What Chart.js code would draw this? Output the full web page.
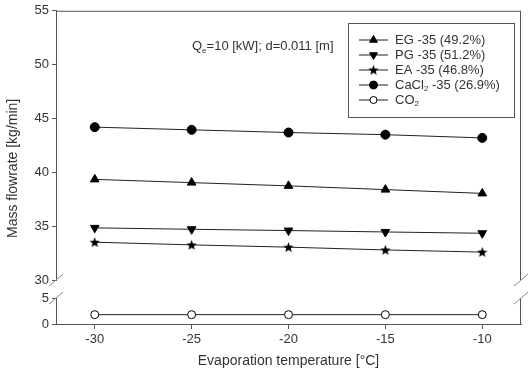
<!DOCTYPE html>
<html><head><meta charset="utf-8">
<script src="https://cdn.jsdelivr.net/npm/chart.js@4/dist/chart.umd.min.js"></script>
<style>html,body{margin:0;padding:0;background:#fff}#wrap{width:528px;height:379px}</style>
</head><body><div id="wrap"><canvas id="c" width="528" height="379"></canvas></div>
<script>
const temps = [-30, -25, -20, -15, -10];
const egFlow = [39.35, 39.05, 38.75, 38.4, 38.05];
const pgFlow = [34.85, 34.72, 34.6, 34.47, 34.35];
const eaFlow = [33.52, 33.27, 33.06, 32.8, 32.6];
const caclFlow = [44.2, 43.95, 43.7, 43.5, 43.2];
const co2Flow = [1.8, 1.8, 1.8, 1.8, 1.8];
const seriesLabels = ['EG -35 (49.2%)', 'PG -35 (51.2%)', 'EA -35 (46.8%)', 'CaCl₂ -35 (26.9%)', 'CO₂'];
const xTicks = [-30, -25, -20, -15, -10];
const yUpperTicks = [30, 35, 40, 45, 50, 55];
const yLowerTicks = [0, 5];
const xTitle = 'Evaporation temperature [°C]';
const yTitle = 'Mass flowrate [kg/min]';
const noteMain = 'Q';
const noteSub = 'e';
const noteRest = '=10 [kW]; d=0.011 [m]';

const FONT = '"Liberation Sans", Arial, sans-serif';
const AX = '#555';
const TXT = '#333';

function starCanvas() {
  const c = document.createElement('canvas');
  c.width = 11; c.height = 11;
  const g = c.getContext('2d');
  g.fillStyle = '#000';
  g.beginPath();
  for (let i = 0; i < 10; i++) {
    const r = i % 2 === 0 ? 5.5 : 2.3;
    const a = -Math.PI / 2 + i * Math.PI / 5;
    const px = 5.5 + r * Math.cos(a), py = 5.5 + r * Math.sin(a) + 0.4;
    if (i === 0) g.moveTo(px, py); else g.lineTo(px, py);
  }
  g.closePath(); g.fill();
  return c;
}
const star = starCanvas();

function pts(vals) { return temps.map((t, i) => ({x: t, y: vals[i]})); }

const markerDefs = [
  {pointStyle: 'triangle', rotation: 0, radius: 5, bg: '#000'},
  {pointStyle: 'triangle', rotation: 180, radius: 5, bg: '#000'},
  {pointStyle: star, rotation: 0, radius: 5, bg: '#000'},
  {pointStyle: 'circle', rotation: 0, radius: 4.5, bg: '#000'},
  {pointStyle: 'circle', rotation: 0, radius: 4, bg: '#fff'}
];
const seriesValues = [egFlow, pgFlow, eaFlow, caclFlow, co2Flow];

const datasets = seriesValues.map((v, i) => ({
  label: seriesLabels[i],
  data: pts(v),
  yAxisID: i === 4 ? 'y2' : 'y',
  borderColor: '#222',
  borderWidth: 1,
  pointStyle: markerDefs[i].pointStyle,
  rotation: markerDefs[i].rotation,
  pointRadius: markerDefs[i].radius,
  pointBackgroundColor: markerDefs[i].bg,
  pointBorderColor: '#000',
  pointBorderWidth: 1,
  fill: false,
  tension: 0
}));

function drawLabel(ctx, text, x, y, size) {
  const parts = text.split('₂');
  let cx = x;
  parts.forEach((p, i) => {
    ctx.font = size + 'px ' + FONT;
    ctx.fillText(p, cx, y);
    cx += ctx.measureText(p).width;
    if (i < parts.length - 1) {
      ctx.font = Math.round(size * 0.65) + 'px ' + FONT;
      ctx.fillText('2', cx, y + 4);
      cx += ctx.measureText('2').width;
    }
  });
}

const decor = {
  id: 'decor',
  afterDraw(chart) {
    const ctx = chart.ctx;
    const ca = chart.chartArea;
    const yU = chart.scales.y, yL = chart.scales.y2;
    ctx.save();
    ctx.strokeStyle = AX; ctx.lineWidth = 1;
    ctx.beginPath();
    ctx.moveTo(ca.left, ca.top + 0.5); ctx.lineTo(ca.right, ca.top + 0.5);
    ctx.moveTo(ca.right - 0.5, ca.top); ctx.lineTo(ca.right - 0.5, yU.bottom);
    ctx.moveTo(ca.right - 0.5, yL.top); ctx.lineTo(ca.right - 0.5, ca.bottom);
    ctx.stroke();
    ctx.beginPath();
    [ca.left, ca.right].forEach(x => {
      [yU.bottom, yL.top].forEach(y => {
        ctx.moveTo(x - 7, y + 6); ctx.lineTo(x + 7, y - 6);
      });
    });
    ctx.strokeStyle = '#888';
    ctx.stroke();
    ctx.fillStyle = TXT;
    ctx.textBaseline = 'alphabetic';
    ctx.textAlign = 'left';
    let x = 192, y = 50;
    ctx.font = '13px ' + FONT;
    ctx.fillText(noteMain, x, y); x += ctx.measureText(noteMain).width;
    ctx.font = '8px ' + FONT;
    ctx.fillText(noteSub, x, y + 3); x += ctx.measureText(noteSub).width;
    ctx.font = '13px ' + FONT;
    ctx.fillText(noteRest, x, y);
    ctx.strokeStyle = AX;
    ctx.strokeRect(348.5, 23.5, 166, 94);
    chart.data.datasets.forEach((ds, i) => {
      const ly = 40 + i * 15;
      ctx.beginPath();
      ctx.strokeStyle = '#222'; ctx.lineWidth = 1;
      ctx.moveTo(359, ly); ctx.lineTo(388, ly); ctx.stroke();
      ctx.fillStyle = markerDefs[i].bg; ctx.strokeStyle = '#000';
      Chart.helpers.drawPoint(ctx, {pointStyle: markerDefs[i].pointStyle, rotation: markerDefs[i].rotation, radius: markerDefs[i].radius - 0.5, borderWidth: 1}, 373.5, ly);
      ctx.fillStyle = TXT;
      ctx.textBaseline = 'middle';
      drawLabel(ctx, ds.label, 395, ly, 13);
    });
    ctx.translate(13, (ca.top + ca.bottom) / 2 + 1);
    ctx.rotate(-Math.PI / 2);
    ctx.textAlign = 'center'; ctx.textBaseline = 'middle';
    ctx.font = '14px ' + FONT; ctx.fillStyle = TXT;
    ctx.fillText(yTitle, 0, 0);
    ctx.restore();
  }
};

const tickFont = {family: FONT, size: 13};
const yCommon = {
  type: 'linear', position: 'left', stack: 'v',
  grid: {drawOnChartArea: false, drawTicks: true, tickLength: 4, color: AX},
  border: {color: AX, width: 1},
  ticks: {font: tickFont, color: TXT, padding: 3, autoSkip: false},
  afterFit(s) { s.width = 56; }
};

new Chart(document.getElementById('c'), {
  type: 'line',
  data: {datasets},
  plugins: [decor],
  options: {
    responsive: false, animation: false, devicePixelRatio: 1,
    layout: {padding: {left: 0, top: 10, right: 7, bottom: 0}},
    plugins: {legend: {display: false}, tooltip: {enabled: false}, title: {display: false}},
    scales: {
      x: {
        type: 'linear', min: -32, max: -8,
        grid: {drawOnChartArea: false, drawTicks: true, tickLength: 5, color: AX},
        border: {color: AX, width: 1},
        ticks: {font: tickFont, color: TXT, padding: 3, maxRotation: 0},
        afterBuildTicks(s) { s.ticks = xTicks.map(v => ({value: v})); },
        title: {display: true, text: xTitle, font: {family: FONT, size: 14}, color: TXT, padding: {top: 0, bottom: 9}},
        afterFit(s) { s.height = 55; }
      },
      y: Object.assign({}, yCommon, {
        min: 30, max: 55, stackWeight: 270, weight: 3,
        afterBuildTicks(s) { s.ticks = yUpperTicks.map(v => ({value: v})); }
      }),
      ygap: {
        type: 'linear', position: 'left', stack: 'v', stackWeight: 18, weight: 2, min: 0, max: 1,
        grid: {display: false}, border: {display: false}, ticks: {display: false},
        afterFit(s) { s.width = 56; }
      },
      y2: Object.assign({}, yCommon, {
        min: 0, max: 5, stackWeight: 26, weight: 1,
        afterBuildTicks(s) { s.ticks = yLowerTicks.map(v => ({value: v})); }
      })
    }
  }
});
</script>
</body></html>
